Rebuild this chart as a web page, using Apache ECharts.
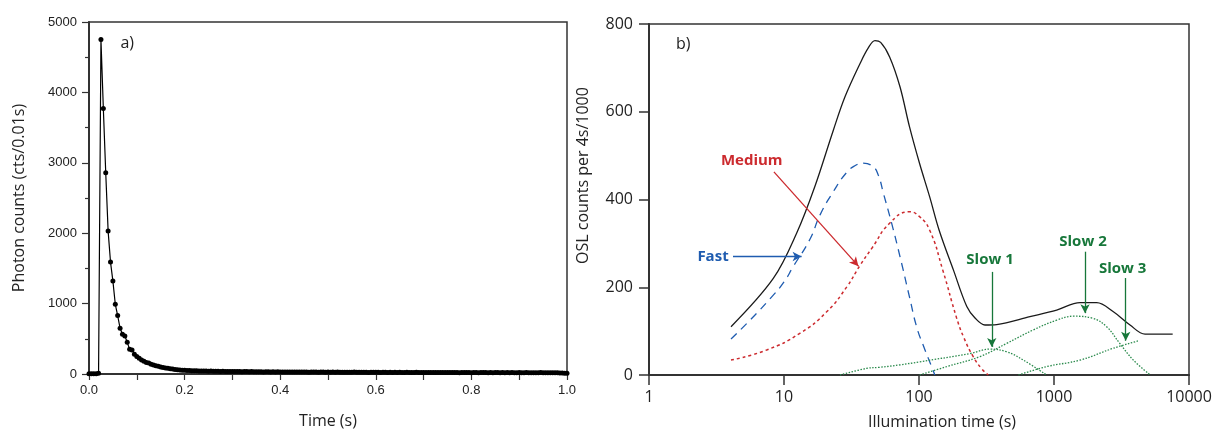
<!DOCTYPE html>
<html>
<head>
<meta charset="utf-8">
<script src="https://cdn.jsdelivr.net/npm/echarts@6/dist/echarts.min.js"></script>
<style>
  html, body { margin: 0; padding: 0; background: #fff; }
  #chart { width: 1217px; height: 435px; }
</style>
</head>
<body>
<div id="chart"></div>
<script>
// a) photon counts, one value per 0.005 s bin starting at 0
const binWidth = 0.005
const photonCounts = [
  5, 5, 5, 5, 10,
  4750, 3770, 2860, 2030, 1590, 1320, 990, 830, 650, 565, 540, 450, 350, 340, 280, 250,
  222, 200, 180, 165, 155, 140, 128, 118, 110, 100, 92, 85, 80, 74, 70, 65, 61, 58, 55,
  52,
  50, 48, 47, 45, 46, 44, 42, 43, 41, 40, 41, 39, 38, 40, 37, 38, 36, 37, 35, 36,
  35, 34, 36, 33, 35, 34, 32, 34, 33, 31, 33, 32, 30, 32, 31, 30, 31, 29, 31, 30,
  29, 30, 28, 30, 29, 27, 29, 28, 30, 27, 28, 26, 28, 27, 29, 26, 27, 28, 26, 27,
  26, 27, 25, 27, 26, 25, 26, 24, 26, 25, 27, 24, 25, 26, 24, 25, 23, 25, 24, 26,
  24, 23, 25, 24, 22, 24, 23, 25, 22, 24, 23, 22, 24, 21, 23, 22, 24, 22, 21, 23,
  22, 21, 23, 22, 20, 22, 21, 23, 20, 22, 21, 20, 22, 21, 19, 21, 22, 20, 21, 19,
  21, 20, 19, 21, 20, 22, 19, 20, 18, 20, 21, 19, 20, 18, 20, 19, 21, 18, 19, 20,
  18, 19, 20, 18, 19, 17, 19, 18, 20, 17, 18, 19, 17, 18, 16, 17, 15, 14, 12, 10,
]

// b) OSL components, [illumination time (s), counts per 4s/1000]
const total = [
  [4.05, 110], [8.33, 220], [12.4, 323], [16.9, 429], [23.2, 558], [28.3, 634], [36.6, 710],
  [42, 745], [47.2, 762], [52, 758], [60.6, 725], [72.3, 657], [85, 566], [101, 482],
  [120, 406], [141, 330], [180, 239], [226, 156], [260, 130], [308, 114],
  [376, 115], [663, 133], [1047, 148], [1560, 165], [2072, 165], [2754, 144], [3656, 114],
  [4725, 93], [7570, 93],
]
const fast = [
  [4.05, 82], [5.6, 125], [8.33, 182], [10, 212], [11.7, 247], [15.6, 310], [18.5, 365],
  [23.2, 418], [29.2, 462], [34, 478], [38, 483], [45.6, 475], [50, 455], [54.5, 414],
  [62.7, 346], [72.3, 270], [85, 178], [96, 110], [108, 66], [127, 11], [131, 0],
]
const medium = [
  [4.05, 34], [7.44, 57], [13.1, 95], [20.7, 144], [29.2, 201], [36.6, 250], [45, 290],
  [60.6, 346], [85, 372], [100, 362], [120, 330], [150, 239], [190, 130], [215, 85],
  [252, 42], [290, 15], [326, 0],
]
const slow1 = [
  [26, 0], [40.8, 15], [51, 17.5], [72, 23], [101, 30], [239, 49], [336, 59], [446, 53],
  [593, 34], [880, 0],
]
const slow2 = [
  [101, 0], [160, 19], [283, 42], [446, 72], [705, 103], [1047, 125], [1394, 134],
  [1944, 129], [2456, 110], [3070, 72], [3870, 34], [5160, 0],
]
const slow3 = [[545, 0], [880, 19], [1560, 34], [2754, 61], [4240, 78]]

const logTicks = ['1', '10', '100', '1000', '10000']

const BLUE = '#1f5cb0'
const RED = '#cc2a2e'
const GREEN = '#17773a'
const AXIS = '#333'
const SANS = '"Open Sans", "Noto Sans", sans-serif'
const ARIAL = '"Liberation Sans", Arial, sans-serif'

const photonData = photonCounts.map((v, i) => [i * binWidth, v])

const note = (text, coord, color) => ({
  coord,
  symbolSize: 0,
  label: {
    show: true,
    position: 'inside',
    formatter: text,
    color,
    fontFamily: SANS,
    fontSize: 15,
    fontWeight: 'bold',
  },
})
const arrow = (from, to, color) => [
  { coord: from, lineStyle: { color, width: 1.3, type: 'solid' } },
  { coord: to },
]
const dotted = (color, width, type) => ({ color, width, type })

const chart = echarts.init(document.getElementById('chart'))

chart.setOption({
  animation: false,
  grid: [
    { left: 89, top: 22, width: 478, height: 352, show: true, borderColor: AXIS, borderWidth: 1.5 },
    { left: 649, top: 24, width: 540, height: 351, show: true, borderColor: AXIS, borderWidth: 1.5 },
  ],
  xAxis: [
    {
      gridIndex: 0,
      type: 'value',
      min: 0,
      max: 1,
      interval: 0.1,
      name: 'Time (s)',
      nameLocation: 'middle',
      nameGap: 39,
      nameTextStyle: { fontFamily: SANS, fontSize: 16, color: '#222' },
      axisLine: { lineStyle: { color: AXIS, width: 2 } },
      axisTick: { length: 6, lineStyle: { color: AXIS, width: 1.2 } },
      axisLabel: {
        margin: 10,
        fontFamily: ARIAL,
        fontSize: 13,
        color: '#222',
        formatter: (v) => (Math.round(v * 10) % 2 === 0 ? v.toFixed(1) : ''),
      },
      splitLine: { show: false },
    },
    {
      gridIndex: 1,
      type: 'log',
      logBase: 10,
      min: 1,
      max: 10000,
      name: 'Illumination time (s)',
      nameLocation: 'middle',
      nameGap: 39,
      nameTextStyle: { fontFamily: SANS, fontSize: 16, color: '#222', padding: [0, 0, 0, 46] },
      axisLine: { lineStyle: { color: AXIS, width: 2 } },
      axisTick: { length: 10, lineStyle: { color: AXIS, width: 1.5 } },
      axisLabel: {
        margin: 14,
        fontFamily: SANS,
        fontSize: 16,
        color: '#222',
        formatter: (v) => logTicks[Math.round(Math.log10(v))],
      },
      splitLine: { show: false },
    },
  ],
  yAxis: [
    {
      gridIndex: 0,
      type: 'value',
      min: 0,
      max: 5000,
      interval: 1000,
      name: 'Photon counts (cts/0.01s)',
      nameLocation: 'middle',
      nameGap: 62,
      nameTextStyle: { fontFamily: SANS, fontSize: 16, color: '#222' },
      axisLine: { show: true, lineStyle: { color: AXIS, width: 2 } },
      axisTick: { show: true, length: 7, lineStyle: { color: AXIS, width: 1.2 } },
      minorTick: { show: true, splitNumber: 2, length: 4, lineStyle: { color: AXIS, width: 1.2 } },
      axisLabel: { margin: 12, fontFamily: ARIAL, fontSize: 13, color: '#222', formatter: (v) => String(v) },
      splitLine: { show: false },
    },
    {
      gridIndex: 1,
      type: 'value',
      min: 0,
      max: 800,
      interval: 200,
      name: 'OSL counts per 4s/1000',
      nameLocation: 'middle',
      nameGap: 58,
      nameTextStyle: { fontFamily: SANS, fontSize: 16, color: '#222', padding: [0, 0, 0, 48] },
      axisLine: { show: true, lineStyle: { color: AXIS, width: 2 } },
      axisTick: { show: true, length: 10, lineStyle: { color: AXIS, width: 1.5 } },
      axisLabel: { margin: 16, fontFamily: SANS, fontSize: 16, color: '#222', formatter: (v) => String(v) },
      splitLine: { show: false },
    },
  ],
  series: [
    {
      name: 'photon',
      type: 'line',
      xAxisIndex: 0,
      yAxisIndex: 0,
      data: photonData,
      symbol: 'circle',
      symbolSize: 5,
      itemStyle: { color: '#000' },
      lineStyle: { color: '#000', width: 1.2 },
      markPoint: {
        silent: true,
        data: [
          {
            coord: [0.08, 4690],
            symbolSize: 0,
            label: { show: true, position: 'inside', formatter: 'a)', color: '#222', fontFamily: SANS, fontSize: 16 },
          },
        ],
      },
    },
    {
      name: 'Total',
      type: 'line',
      xAxisIndex: 1,
      yAxisIndex: 1,
      data: total,
      showSymbol: false,
      smooth: 0.35,
      lineStyle: { color: '#1a1a1a', width: 1.3 },
      z: 3,
      markPoint: {
        silent: true,
        data: [
          {
            coord: [1.79, 754],
            symbolSize: 0,
            label: { show: true, position: 'inside', formatter: 'b)', color: '#222', fontFamily: SANS, fontSize: 16 },
          },
          note('Fast', [2.98, 270], BLUE),
          note('Medium', [5.77, 488], RED),
          note('Slow 1', [336, 262], GREEN),
          note('Slow 2', [1640, 304], GREEN),
          note('Slow 3', [3228, 243], GREEN),
        ],
      },
      markLine: {
        silent: true,
        symbol: ['none', 'arrow'],
        symbolSize: [7, 9],
        label: { show: false },
        data: [
          arrow([4.19, 270], [13.5, 270], BLUE),
          arrow([8.42, 463], [35.6, 248], RED),
          arrow([346, 235], [346, 64], GREEN),
          arrow([1698, 281], [1698, 141], GREEN),
          arrow([3400, 221], [3400, 78], GREEN),
        ],
      },
    },
    {
      name: 'Fast',
      type: 'line',
      xAxisIndex: 1,
      yAxisIndex: 1,
      data: fast,
      showSymbol: false,
      smooth: 0.5,
      lineStyle: dotted(BLUE, 1.3, [8, 6]),
    },
    {
      name: 'Medium',
      type: 'line',
      xAxisIndex: 1,
      yAxisIndex: 1,
      data: medium,
      showSymbol: false,
      smooth: 0.5,
      lineStyle: dotted(RED, 1.5, [3, 3]),
    },
    {
      name: 'Slow 1',
      type: 'line',
      xAxisIndex: 1,
      yAxisIndex: 1,
      data: slow1,
      showSymbol: false,
      smooth: 0.4,
      lineStyle: dotted('#2a8a4c', 1.3, [1.5, 1.5]),
    },
    {
      name: 'Slow 2',
      type: 'line',
      xAxisIndex: 1,
      yAxisIndex: 1,
      data: slow2,
      showSymbol: false,
      smooth: 0.4,
      lineStyle: dotted('#2a8a4c', 1.3, [1.5, 1.5]),
    },
    {
      name: 'Slow 3',
      type: 'line',
      xAxisIndex: 1,
      yAxisIndex: 1,
      data: slow3,
      showSymbol: false,
      smooth: 0.4,
      lineStyle: dotted('#2a8a4c', 1.3, [1.5, 1.5]),
    },
  ],
})
</script>
</body>
</html>
